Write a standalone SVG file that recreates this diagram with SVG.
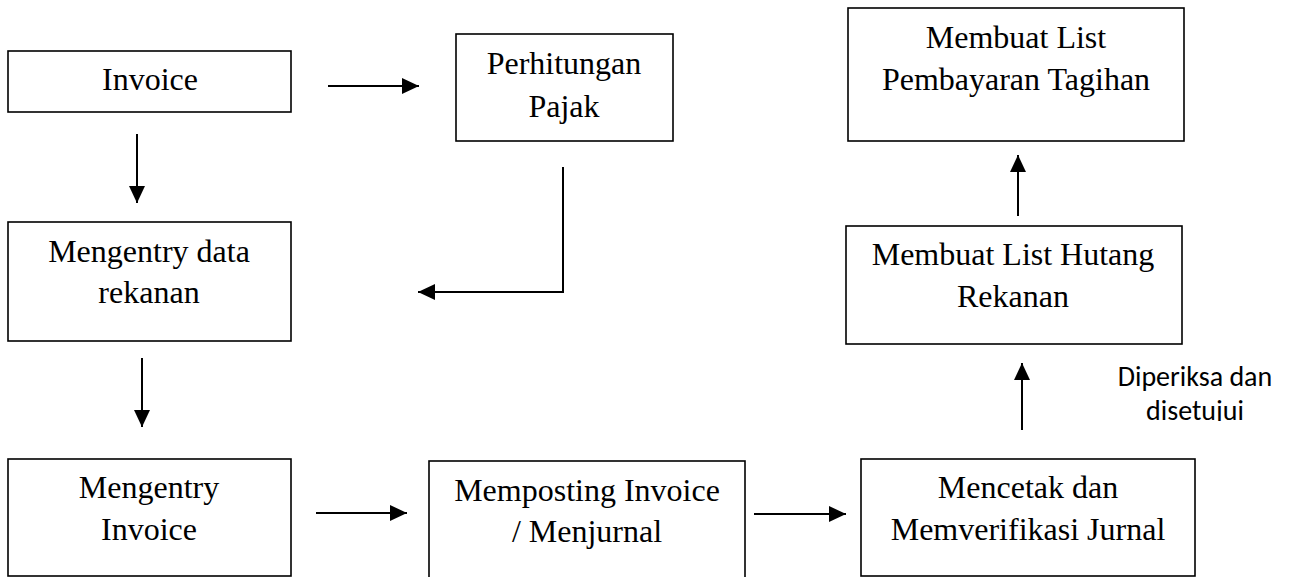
<svg xmlns="http://www.w3.org/2000/svg" width="1293" height="577" viewBox="0 0 1293 577">
  <style>
    .box { fill: #fff; stroke: #000; stroke-width: 1.6; }
    .lbl { font-family: "Liberation Serif", "Times New Roman", serif; font-size: 32px; fill: #000; text-anchor: middle; }
    .note { font-family: Carlito, "Liberation Sans", Arial, sans-serif; font-size: 28px; fill: #000; text-anchor: middle; }
    .conn { fill: none; stroke: #000; stroke-width: 2; marker-end: url(#arrow); }
  </style>
  <defs>
    <marker id="arrow" markerUnits="userSpaceOnUse" markerWidth="17" markerHeight="17" viewBox="0 0 17 17" refX="17" refY="8.5" orient="auto">
      <path d="M0,0.5 L17,8.5 L0,16.5 Z" fill="#000"/>
    </marker>
    <clipPath id="noteClip">
      <rect x="1090" y="355" width="200" height="66"/>
    </clipPath>
  </defs>
  <rect width="1293" height="577" fill="#fff"/>

  <g id="node-invoice">
    <rect class="box" x="8" y="51" width="283" height="61"/>
    <text class="lbl" x="150" y="90">Invoice</text>
  </g>
  <g id="node-perhitungan-pajak">
    <rect class="box" x="456" y="34" width="217" height="107"/>
    <text class="lbl" x="564" y="74">Perhitungan</text>
    <text class="lbl" x="564" y="117">Pajak</text>
  </g>
  <g id="node-list-pembayaran">
    <rect class="box" x="848" y="8" width="336" height="133"/>
    <text class="lbl" x="1016" y="48">Membuat List</text>
    <text class="lbl" x="1016" y="90">Pembayaran Tagihan</text>
  </g>
  <g id="node-list-hutang">
    <rect class="box" x="846" y="226" width="336" height="118"/>
    <text class="lbl" x="1013" y="265">Membuat List Hutang</text>
    <text class="lbl" x="1013" y="307">Rekanan</text>
  </g>
  <g id="node-entry-rekanan">
    <rect class="box" x="8" y="222" width="283" height="119"/>
    <text class="lbl" x="149" y="262">Mengentry data</text>
    <text class="lbl" x="149" y="303">rekanan</text>
  </g>
  <g id="node-entry-invoice">
    <rect class="box" x="8" y="459" width="283" height="117"/>
    <text class="lbl" x="149" y="498">Mengentry</text>
    <text class="lbl" x="149" y="540">Invoice</text>
  </g>
  <g id="node-memposting">
    <rect class="box" x="429" y="461" width="316" height="140"/>
    <text class="lbl" x="587" y="501">Memposting Invoice</text>
    <text class="lbl" x="587" y="542">/ Menjurnal</text>
  </g>
  <g id="node-mencetak">
    <rect class="box" x="861" y="459" width="334" height="117"/>
    <text class="lbl" x="1028" y="498">Mencetak dan</text>
    <text class="lbl" x="1028" y="540">Memverifikasi Jurnal</text>
  </g>

  <g id="connectors">
    <path class="conn" d="M328,86 H419"/>
    <path class="conn" d="M137,134 V203"/>
    <path class="conn" d="M563,167 V292 H418"/>
    <path class="conn" d="M142,358 V427"/>
    <path class="conn" d="M316,513 H407"/>
    <path class="conn" d="M754,514 H846"/>
    <path class="conn" d="M1022,430 V363"/>
    <path class="conn" d="M1018,216 V155"/>
  </g>

  <g id="label-diperiksa" clip-path="url(#noteClip)">
    <text class="note" x="1195" y="386">Diperiksa dan</text>
    <text class="note" x="1195" y="420">disetujui</text>
  </g>
</svg>
